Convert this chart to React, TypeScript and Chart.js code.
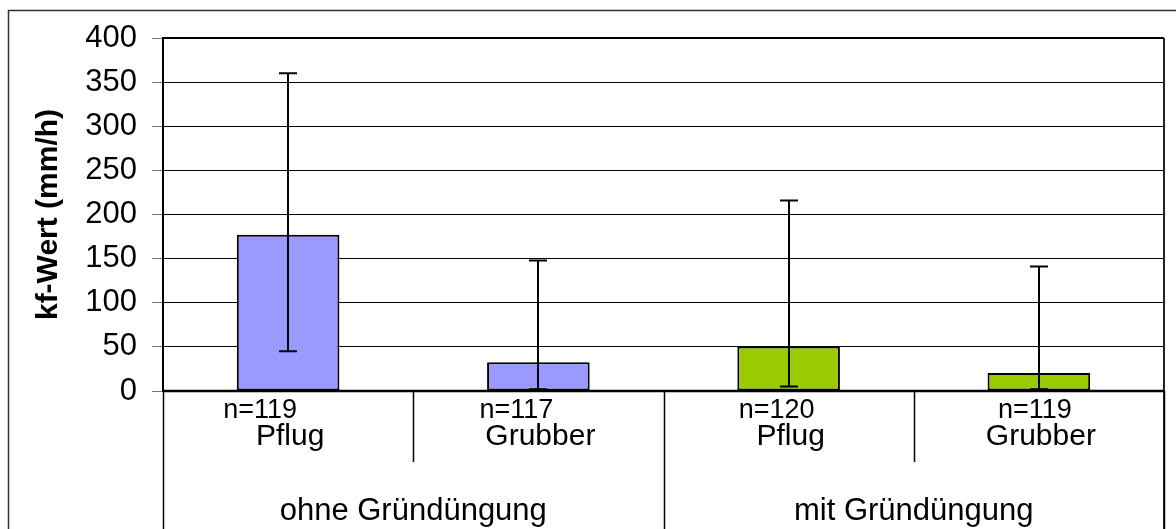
import { useEffect, useRef } from "react";
import { Chart, registerables } from "chart.js";

Chart.register(...registerables);

// ---- data ----
const categories = ["Pflug", "Grubber", "Pflug", "Grubber"];
const sampleSizes = ["n=119", "n=117", "n=120", "n=119"];
const groups = ["ohne Gründüngung", "mit Gründüngung"];
const meanValues = [177, 32.5, 50.5, 20.5];
const errorUpper = [360, 148, 216, 141];
const errorLower = [45, 2, 5, 2];
const barColors = ["#9999FF", "#9999FF", "#99CC00", "#99CC00"];
const yMin = 0;
const yMax = 400;
const yStep = 50;
const yTitle = "kf-Wert (mm/h)";

// ---- layout (not data) ----
const nLabelShift = [-28, -22, -12, -4];
const FONT = "'Liberation Sans', Arial, sans-serif";

const overlayPlugin = {
  id: "overlay",
  afterDatasetsDraw(chart: any) {
    const ctx = chart.ctx;
    const x = chart.scales.x;
    const y = chart.scales.y;
    const area = chart.chartArea;
    ctx.save();
    // error bars
    ctx.strokeStyle = "#000";
    ctx.lineWidth = 2;
    for (let i = 0; i < meanValues.length; i++) {
      const cx = Math.round(x.getPixelForValue(i));
      const yt = y.getPixelForValue(errorUpper[i]);
      const yb = y.getPixelForValue(errorLower[i]);
      ctx.beginPath();
      ctx.moveTo(cx, yt);
      ctx.lineTo(cx, yb);
      ctx.moveTo(cx - 9, yt);
      ctx.lineTo(cx + 9, yt);
      ctx.moveTo(cx - 9, yb);
      ctx.lineTo(cx + 9, yb);
      ctx.stroke();
    }
    // plot border
    ctx.lineWidth = 2;
    ctx.strokeStyle = "#000";
    ctx.beginPath();
    ctx.moveTo(area.left, area.top);
    ctx.lineTo(area.right, area.top);
    ctx.stroke();
    ctx.strokeStyle = "#222";
    ctx.beginPath();
    ctx.moveTo(area.right, area.top);
    ctx.lineTo(area.right, chart.height);
    ctx.stroke();
    ctx.strokeStyle = "#000";
    ctx.lineWidth = 2.5;
    ctx.beginPath();
    ctx.moveTo(area.left, area.bottom);
    ctx.lineTo(area.right, area.bottom);
    ctx.stroke();
    ctx.restore();
  },
  afterDraw(chart: any) {
    const ctx = chart.ctx;
    const x = chart.scales.x;
    const area = chart.chartArea;
    const catW = (area.right - area.left) / categories.length;
    ctx.save();
    // separators below axis
    ctx.strokeStyle = "#000";
    ctx.lineWidth = 1.5;
    for (let i = 0; i <= categories.length; i++) {
      const bx = Math.round(area.left + i * catW) + 0.5;
      const isLong = i % 2 === 0;
      ctx.beginPath();
      ctx.moveTo(bx, area.bottom);
      ctx.lineTo(bx, isLong ? chart.height : area.bottom + 71);
      ctx.stroke();
    }
    ctx.fillStyle = "#000";
    ctx.textAlign = "center";
    ctx.textBaseline = "alphabetic";
    for (let i = 0; i < categories.length; i++) {
      const cx = x.getPixelForValue(i);
      ctx.font = `27px ${FONT}`;
      ctx.fillText(sampleSizes[i], cx + nLabelShift[i], area.bottom + 27);
      ctx.font = `30px ${FONT}`;
      ctx.fillText(categories[i], cx + 2, area.bottom + 54);
    }
    ctx.font = `31px ${FONT}`;
    for (let g = 0; g < groups.length; g++) {
      const gx = area.left + (g * 2 + 1) * catW;
      ctx.fillText(groups[g], gx, area.bottom + 129);
    }
    // outer frame
    ctx.strokeStyle = "#333";
    ctx.lineWidth = 1.5;
    ctx.strokeRect(8.5, 10.5, 3000, 3000);
    ctx.restore();
  },
};

export default function App() {
  const ref = useRef<HTMLCanvasElement | null>(null);
  useEffect(() => {
    if (!ref.current) return;
    Chart.defaults.font.family = FONT;
    const chart = new Chart(ref.current, {
      type: "bar",
      data: {
        labels: categories,
        datasets: [
          {
            data: meanValues,
            backgroundColor: barColors,
            borderColor: "#000",
            borderWidth: 2,
            borderSkipped: false,
            categoryPercentage: 1,
            barPercentage: 0.41,
          },
        ],
      },
      options: {
        responsive: false,
        animation: false,
        layout: { padding: { left: 0, top: 38, right: 12, bottom: 138 } },
        plugins: {
          legend: { display: false },
          tooltip: { enabled: false },
        },
        scales: {
          x: { display: false },
          y: {
            min: yMin,
            max: yMax,
            ticks: {
              stepSize: yStep,
              color: "#000",
              font: { size: 31, family: FONT },
              padding: 15,
            },
            grid: {
              color: "#000",
              lineWidth: 1,
              tickLength: 11,
              tickColor: "#777",
            },
            border: { display: true, color: "#000", width: 2 },
            title: {
              display: true,
              text: yTitle,
              color: "#000",
              font: { size: 30, weight: "bold", family: FONT },
              padding: { top: 31, bottom: 0 },
            },
            afterFit(scale: any) {
              scale.width = 163;
            },
          },
        },
      },
      plugins: [overlayPlugin],
    });
    return () => chart.destroy();
  }, []);
  return (
    <div style={{ position: "fixed", left: 0, top: 0, width: 1176, height: 529, background: "#fff" }}>
      <canvas ref={ref} width={1176} height={529} style={{ display: "block" }} />
    </div>
  );
}
